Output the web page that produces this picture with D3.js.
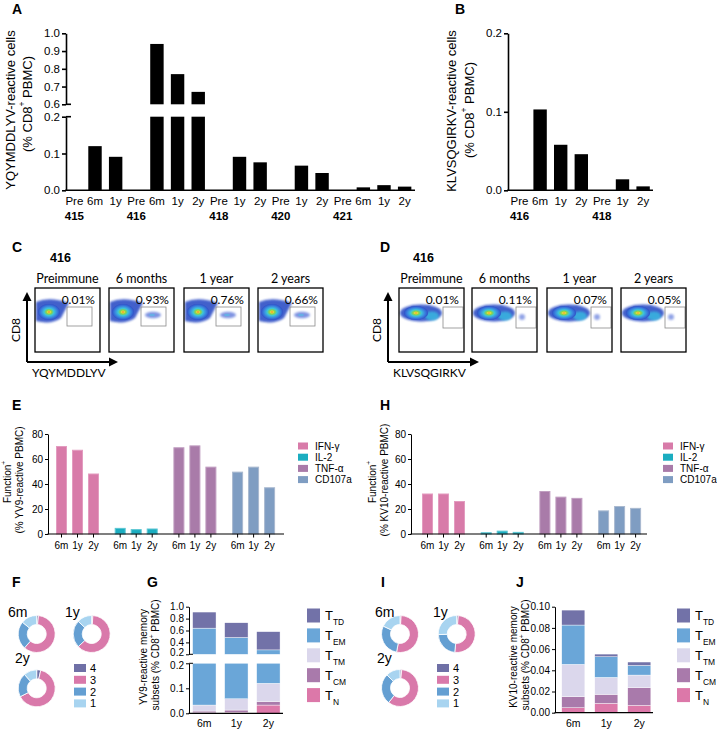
<!DOCTYPE html>
<html><head><meta charset="utf-8">
<script src="https://cdn.jsdelivr.net/npm/d3@7"></script>
<style>body{margin:0;background:#fff} svg{display:block}</style>
</head><body><svg id="c" width="717" height="730"></svg>
<script>
// ---------------- DATA ----------------
const aCats = ["Pre","6m","1y","Pre","6m","1y","2y","Pre","1y","2y","Pre","1y","2y","Pre","6m","1y","2y"];
const aValues = [0,0.12,0.091,0,0.94,0.77,0.67,0,0.091,0.076,0,0.067,0.047,0,0.008,0.014,0.01];
const aGroups = ["415","416","418","420","421"];
const aGroupStart = [0,3,7,10,13];
const aUpperTicks = [0.6,0.7,0.8,0.9,1.0];
const aLowerTicks = [0,0.1,0.2];
const bCats = ["Pre","6m","1y","2y","Pre","1y","2y"];
const bValues = [0,0.103,0.058,0.046,0,0.014,0.005];
const bGroups = ["416","418"];
const bGroupStart = [0,4];
const bTicks = [0,0.1,0.2];
const flowTimes = ["Preimmune","6 months","1 year","2 years"];
const cPercents = ["0.01%","0.93%","0.76%","0.66%"];
const dPercents = ["0.01%","0.11%","0.07%","0.05%"];
const functions = ["IFN-γ","IL-2","TNF-α","CD107a"];
const timepoints = ["6m","1y","2y"];
const eValues = [[70,67,48],[4.5,3.5,4],[69,70.5,53.5],[49.5,53.5,37]];
const hValues = [[32,32,26],[1,2.3,1.3],[34,29.5,28.5],[18.5,22,20.5]];
const funcTicks = [0,20,40,60,80];
const polyCats = ["4","3","2","1"];
const fPie = [[1.5,60,24.5,14],[1,62,24,13],[3.5,64,21,11.5]];
const iPie = [[1,52,29,18],[1.4,50.3,22.8,25.5],[1.5,59,27,12.5]];
const subsets = ["N","CM","TM","EM","TD"]; // bottom to top
const gValues = [[0.002,0.007,0.024,0.607,0.27],[0.004,0.009,0.045,0.425,0.247],[0.033,0.014,0.073,0.154,0.306]];
const jValues = [[0.0047,0.0104,0.0305,0.0371,0.0141],[0.0088,0.0085,0.016,0.0195,0.0025],[0.0069,0.0167,0.0119,0.0091,0.0032]];
const gUpperTicks = [0.2,0.4,0.6,0.8,1.0];
const gLowerTicks = [0,0.1,0.2];
const jTicks = [0,0.02,0.04,0.06,0.08,0.10];

// ---------------- STYLE ----------------
const FONT = "'Liberation Sans', Arial, sans-serif";
const FLOWFONT = "Lato, 'Open Sans', sans-serif";
const funcColors = ["#d87ba9","#1badc0","#a97ba9","#7f9dc2"];
const funcStroke = ["#e39cc0","#5cc6d3","#c19fc1","#a9b9cf"];
const polyColors = ["#6f70a6","#d979aa","#649fd2","#a8d4f0"];
const subsetColors = {N:"#dc78a9",CM:"#a97aab",TM:"#dbd7ec",EM:"#6aa6d8",TD:"#7272a8"};

const svg = d3.select("#c");
svg.append("rect").attr("width",717).attr("height",730).attr("fill","#fff");
const defs = svg.append("defs");
const grad = defs.append("radialGradient").attr("id","dens");
[[0,"#d3201c"],[0.1,"#f3e03a"],[0.25,"#8ad24a"],[0.45,"#3cc6d8"],[0.72,"#3a86e0"],[1,"#3050c8"]].forEach(s=>grad.append("stop").attr("offset",s[0]).attr("stop-color",s[1]));
defs.append("filter").attr("id","blur").attr("x","-50%").attr("y","-50%").attr("width","200%").attr("height","200%")
  .append("feGaussianBlur").attr("stdDeviation",0.9);

function txt(x,y,s,o={}){
  const t=svg.append("text").attr("x",x).attr("y",y).attr("font-family",o.font||FONT)
    .attr("font-size",o.size||11).attr("text-anchor",o.anchor||"start").attr("fill","#000");
  if(o.bold) t.attr("font-weight","bold");
  if(o.rotate!=null) t.attr("transform",`rotate(${o.rotate},${x},${y})`).attr("dominant-baseline","central");
  if(Array.isArray(s)){
    s.forEach(p=>{const ts=t.append("tspan").text(p.t);
      if(p.sup) ts.attr("font-size",(o.size||11)*0.65).attr("baseline-shift","super");
      if(p.sub) ts.attr("font-size",(o.size||11)*0.65).attr("baseline-shift","sub");});
  } else t.text(s);
  return t;
}
function line(x1,y1,x2,y2,w=1,c="#000"){svg.append("line").attr("x1",x1).attr("y1",y1).attr("x2",x2).attr("y2",y2).attr("stroke",c).attr("stroke-width",w);}
function yAxis(scale,x,ticks,fmt,fs,tsz,sw){
  const g=svg.append("g").attr("transform",`translate(${x},0)`)
    .call(d3.axisLeft(scale).tickValues(ticks).tickFormat(d3.format(fmt)).tickSize(tsz).tickSizeOuter(0).tickPadding(2));
  g.attr("font-family",FONT).attr("font-size",fs);
  g.selectAll("path,line").attr("stroke","#000").attr("stroke-width",sw);
  g.selectAll("text").attr("fill","#000");
  return g;
}
function label(t,x,y){txt(x,y,t,{size:14,bold:true});}

// ---------------- PANEL A ----------------
label("A",12,14);
const aX = d3.scaleBand().domain(d3.range(aCats.length)).range([66,413]).paddingInner(0.35).paddingOuter(0.08);
const aYlo = d3.scaleLinear().domain([0,0.2]).range([190.3,116.7]);
const aYhi = d3.scaleLinear().domain([0.6,1.0]).range([104.3,33.3]);
aValues.forEach((v,i)=>{
  if(v<=0) return;
  const x=aX(i), w=aX.bandwidth(), top=Math.min(v,0.2);
  svg.append("rect").attr("x",x).attr("y",aYlo(top)).attr("width",w).attr("height",aYlo(0)-aYlo(top)).attr("fill","#000");
  if(v>0.6) svg.append("rect").attr("x",x).attr("y",aYhi(v)).attr("width",w).attr("height",aYhi(0.6)-aYhi(v)).attr("fill","#000");
});
yAxis(aYhi,66,aUpperTicks,".1f",11.5,4,1.6);
yAxis(aYlo,66,aLowerTicks,".1f",11.5,4,1.6);
line(66,104.3,71,104.3,1.6); line(66,116.7,71,116.7,1.6);
line(65.2,190.3,415,190.3,1.6);
aCats.forEach((c,i)=>txt(aX(i)+aX.bandwidth()/2,205,c,{anchor:"middle",size:11.5}));
aGroups.forEach((g,k)=>txt(aX(aGroupStart[k])+aX.bandwidth()/2,220,g,{anchor:"middle",size:11.5,bold:true}));
txt(10,110,"YQYMDDLYV-reactive cells",{rotate:-90,anchor:"middle",size:13});
txt(27,104,[{t:"(% CD8"},{t:"+",sup:true},{t:" PBMC)"}],{rotate:-90,anchor:"middle",size:13});

// ---------------- PANEL B ----------------
label("B",455,14);
const bX = d3.scaleBand().domain(d3.range(bCats.length)).range([508,654.6]).paddingInner(0.35).paddingOuter(0.233);
const bY = d3.scaleLinear().domain([0,0.2]).range([190.3,33.3]);
bValues.forEach((v,i)=>{
  if(v<=0) return;
  svg.append("rect").attr("x",bX(i)).attr("y",bY(v)).attr("width",bX.bandwidth()).attr("height",bY(0)-bY(v)).attr("fill","#000");
});
yAxis(bY,508,bTicks,".1f",11.5,4,1.6);
line(507.2,190.3,653,190.3,1.6);
bCats.forEach((c,i)=>txt(bX(i)+bX.bandwidth()/2,205,c,{anchor:"middle",size:11.5}));
bGroups.forEach((g,k)=>txt(bX(bGroupStart[k])+bX.bandwidth()/2,220,g,{anchor:"middle",size:11.5,bold:true}));
txt(451,111,"KLVSQGIRKV-reactive  cells",{rotate:-90,anchor:"middle",size:13});
txt(469,110,[{t:"(% CD8"},{t:"+",sup:true},{t:" PBMC)"}],{rotate:-90,anchor:"middle",size:13});

// ---------------- PANELS C & D (flow) ----------------
function flowPanel(letterX, boxXs, pcts, kind, arrowX, axisLabel){
  label(kind==="C"?"C":"D",letterX,252);
  txt(kind==="C"?50:413,262,"416",{size:12.5,bold:true});
  const by=288,bw=65,bh=64;
  boxXs.forEach((bx,i)=>{
    txt(bx+bw/2,283,flowTimes[i],{anchor:"middle",size:12.5,font:FLOWFONT});
    const g=svg.append("g");
    if(kind==="C"){
      g.append("path").attr("d",`M${bx+1},${by+14}Q${bx+14},${by+8} ${bx+34},${by+15}Q${bx+30},${by+22} ${bx+26},${by+30}Q${bx+16},${by+37} ${bx+1},${by+33}Z`)
        .attr("fill","#2f4fc6").attr("opacity",0.9).attr("filter","url(#blur)");
      g.append("ellipse").attr("cx",bx+14).attr("cy",by+24).attr("rx",11).attr("ry",8).attr("fill","url(#dens)");
      if(i>0){
        g.append("ellipse").attr("cx",bx+44).attr("cy",by+27).attr("rx",8).attr("ry",3.2).attr("fill","#4a68d6").attr("opacity",0.7).attr("filter","url(#blur)");
        g.append("ellipse").attr("cx",bx+43).attr("cy",by+27).attr("rx",3).attr("ry",1.3).attr("fill","#5fb4e6").attr("opacity",0.8);
      }
      g.append("rect").attr("x",bx+32).attr("y",by+19).attr("width",25).attr("height",19).attr("fill","none").attr("stroke","#8a8a8a").attr("stroke-width",0.8);
    } else {
      g.append("ellipse").attr("cx",bx+22).attr("cy",by+25).attr("rx",21).attr("ry",8.5).attr("fill","#2f4fc6").attr("opacity",0.9).attr("filter","url(#blur)");
      g.append("ellipse").attr("cx",bx+33).attr("cy",by+28).attr("rx",7).attr("ry",4.5).attr("fill","#38b8e0").attr("opacity",0.85).attr("filter","url(#blur)");
      g.append("ellipse").attr("cx",bx+17).attr("cy",by+25).attr("rx",12).attr("ry",7).attr("fill","url(#dens)");
      if(i>0){
        g.append("ellipse").attr("cx",bx+50).attr("cy",by+29).attr("rx",3).attr("ry",3).attr("fill","#4a68d6").attr("opacity",0.6).attr("filter","url(#blur)");
      }
      g.append("rect").attr("x",bx+44).attr("y",by+19).attr("width",20).attr("height",21).attr("fill","none").attr("stroke","#8a8a8a").attr("stroke-width",0.8);
    }
    svg.append("rect").attr("x",bx).attr("y",by).attr("width",bw).attr("height",bh).attr("fill","none").attr("stroke","#000").attr("stroke-width",1.3);
    txt(bx+bw-5,304,pcts[i],{anchor:"end",size:12,font:FLOWFONT});
  });
  // arrows
  line(arrowX,362,arrowX,300,2); line(arrowX,362,arrowX+84,362,2);
  svg.append("path").attr("d",`M${arrowX-4.5},${301}L${arrowX},${292}L${arrowX+4.5},${301}Z`).attr("fill","#000");
  svg.append("path").attr("d",`M${arrowX+82},${357.5}L${arrowX+91},${362}L${arrowX+82},${366.5}Z`).attr("fill","#000");
  txt(arrowX-12,330,"CD8",{rotate:-90,anchor:"middle",size:12,font:FLOWFONT});
  txt(arrowX+5,377,axisLabel,{size:12,font:FLOWFONT});
}
flowPanel(12,[35,109,184,258],cPercents,"C",27,"YQYMDDLYV");
flowPanel(380,[399,472,547,621],dPercents,"D",388,"KLVSQGIRKV");

// ---------------- PANELS E & H (function) ----------------
function funcPanel(letter,letterX,axisX,firstC,vals,legX,title2,titleX){
  label(letter,letterX,410);
  const y=d3.scaleLinear().domain([0,80]).range([534,434]);
  const x0=d3.scalePoint().domain(functions).range([firstC,firstC+3*58.7]);
  const x1=d3.scalePoint().domain(timepoints).range([0,32]);
  functions.forEach((f,fi)=>timepoints.forEach((t,ti)=>{
    const cx=x0(f)+x1(t), v=vals[fi][ti];
    svg.append("rect").attr("x",cx-5).attr("y",y(v)).attr("width",10).attr("height",y(0)-y(v))
      .attr("fill",funcColors[fi]).attr("stroke",funcStroke[fi]).attr("stroke-width",1);
    line(cx,534,cx,537.5,1);
    txt(cx,549,t,{anchor:"middle",size:10});
  }));
  yAxis(y,axisX,funcTicks,"d",10,3,1);
  line(axisX-0.5,534,axisX+236,534,1.2);
  functions.forEach((f,fi)=>{
    const cy=446+fi*11.2;
    svg.append("rect").attr("x",legX).attr("y",cy-3.5).attr("width",10).attr("height",7).attr("fill",funcColors[fi]);
    txt(legX+17,cy+3.5,f,{size:10});
  });
  txt(titleX,482,[{t:"Function"},{t:"+",sup:true}],{rotate:-90,anchor:"middle",size:10});
  txt(titleX+12,480,title2,{rotate:-90,anchor:"middle",size:10});
}
funcPanel("E",12,48,61.5,eValues,298,"(% YV9-reactive PBMC)",7);
funcPanel("H",380,411,427.5,hValues,663,"(% KV10-reactive PBMC)",372);

// ---------------- PANELS F & I (donuts) ----------------
function donutPanel(letter,letterX,centers,vals,labelPos,legX){
  label(letter,letterX,587);
  const arc=d3.arc().innerRadius(9.5).outerRadius(18.5);
  vals.forEach((v,k)=>{
    const arcs=d3.pie().sort(null)(v);
    svg.append("g").attr("transform",`translate(${centers[k][0]},${centers[k][1]})`)
      .selectAll("path").data(arcs).join("path").attr("d",arc)
      .attr("fill",(d,i)=>polyColors[i]).attr("stroke","#fff").attr("stroke-width",0.8);
    txt(labelPos[k][0],labelPos[k][1],timepoints[k],{size:14});
  });
  polyCats.forEach((c,i)=>{
    const cy=668+i*11.8;
    svg.append("rect").attr("x",legX).attr("y",cy-4).attr("width",12).attr("height",8).attr("fill",polyColors[i]);
    txt(legX+16,cy+4,c,{size:11});
  });
}
donutPanel("F",12,[[36.7,634],[91.7,634],[36.7,688.3]],fPie,[[8,617],[65,617],[15,663]],74);
donutPanel("I",381,[[400,634],[456.7,634],[400,688]],iPie,[[375,617],[433,617],[377,663]],437);

// ---------------- PANELS G & J (stacked) ----------------
function stackPanel(letter,letterX,vals,xr,pi,po,segs,axisX,axisEnd,legX,t1,t2,titleX){
  label(letter,letterX,587);
  const x=d3.scaleBand().domain(timepoints).range(xr).paddingInner(pi).paddingOuter(po);
  vals.forEach((bar,bi)=>{
    let cum=0;
    bar.forEach((v,k)=>{
      const a=cum,b=cum+v; cum=b;
      segs.forEach(s=>{
        const lo=Math.max(a,s.d0), hi=Math.min(b,s.d1);
        if(hi>lo) svg.append("rect").attr("x",x(timepoints[bi])).attr("y",s.scale(hi)).attr("width",x.bandwidth())
          .attr("height",s.scale(lo)-s.scale(hi)).attr("fill",subsetColors[subsets[k]]).attr("stroke","#fff").attr("stroke-width",0.4);
      });
    });
    txt(x(timepoints[bi])+x.bandwidth()/2,727,timepoints[bi],{anchor:"middle",size:10.5});
  });
  segs.forEach((s,si)=>{
    const g=yAxis(s.scale,axisX,s.ticks,s.fmt,10,3,1);
    if(segs.length>1){
      // nudge the two labels at the break apart
      g.selectAll(".tick").filter(d=>si===0?d===s.d1:d===s.d0).select("text").attr("y",si===0?2:-2);
    }
  });
  if(segs.length>1){ line(axisX,segs[1].scale(segs[1].d0),axisX+4,segs[1].scale(segs[1].d0),1); line(axisX,segs[0].scale(segs[0].d1),axisX+4,segs[0].scale(segs[0].d1),1); }
  line(axisX-0.5,segs[0].scale(0),axisEnd,segs[0].scale(0),1.2);
  const legOrder=["TD","EM","TM","CM","N"];
  legOrder.forEach((s,i)=>{
    const cy=615.5+i*19.9;
    svg.append("rect").attr("x",legX).attr("y",cy-7).attr("width",13).attr("height",14).attr("fill",subsetColors[s]);
    txt(legX+18,cy+4.5,[{t:"T"},{t:s,sub:true}],{size:13});
  });
  txt(titleX,657,t1,{rotate:-90,anchor:"middle",size:10});
  txt(titleX+12,655,t2,{rotate:-90,anchor:"middle",size:10});
}
stackPanel("G",147,gValues,[189,283.7],0.27,0.114,[
  {scale:d3.scaleLinear().domain([0,0.2]).range([713.3,663.3]),d0:0,d1:0.2,ticks:gLowerTicks,fmt:".1f"},
  {scale:d3.scaleLinear().domain([0.2,1.0]).range([654.3,606.7]),d0:0.2,d1:1.0,ticks:gUpperTicks,fmt:".1f"}
],189,283,307,"YV9-reactive memory",[{t:"subsets (% CD8"},{t:"+",sup:true},{t:" PBMC)"}],143);
stackPanel("J",516,jValues,[555,657.6],0.3,0.205,[
  {scale:d3.scaleLinear().domain([0,0.1]).range([712.7,606.7]),d0:0,d1:0.1,ticks:jTicks,fmt:".2f"}
],555,653,677,"KV10-reactive memory",[{t:"subsets (% CD8"},{t:"+",sup:true},{t:" PBMC)"}],513);
</script></body></html>
